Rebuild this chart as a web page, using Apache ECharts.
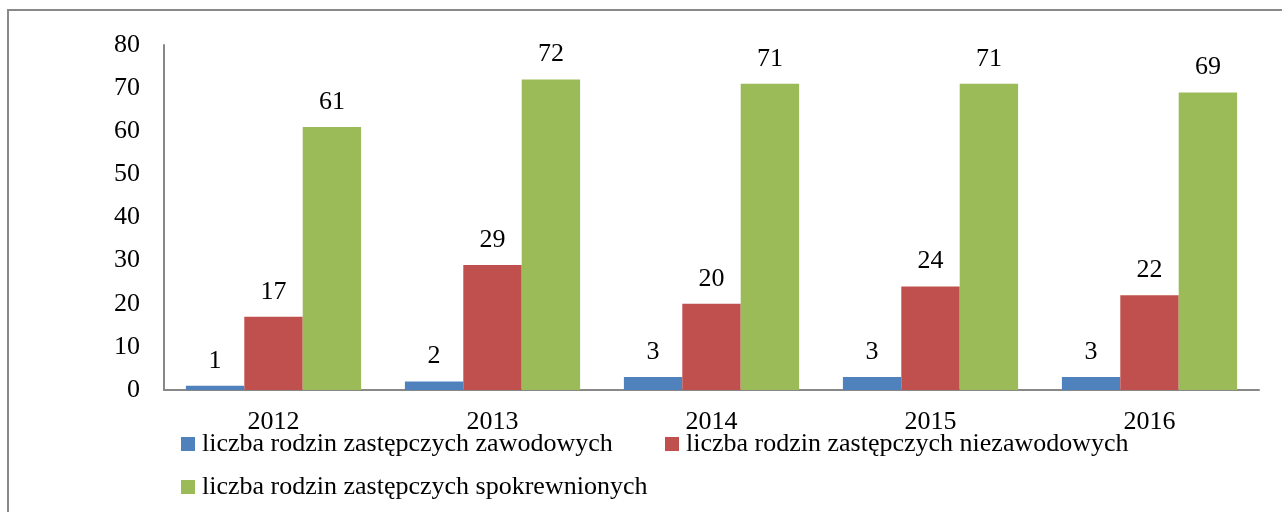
<!DOCTYPE html>
<html>
<head>
<meta charset="utf-8">
<script src="https://cdn.jsdelivr.net/npm/echarts@6/dist/echarts.min.js"></script>
<style>
  html, body { margin: 0; padding: 0; background: #fff; }
  #main { width: 1282px; height: 512px; }
</style>
</head>
<body>
<div id="main"></div>
<script>
var years = ['2012', '2013', '2014', '2015', '2016'];
var seriesNames = [
    'liczba rodzin zastępczych zawodowych',
    'liczba rodzin zastępczych niezawodowych',
    'liczba rodzin zastępczych spokrewnionych'
];
var zawodowe = [1, 2, 3, 3, 3];
var niezawodowe = [17, 29, 20, 24, 22];
var spokrewnione = [61, 72, 71, 71, 69];
var colors = ['#4F81BD', '#C0504D', '#9BBB59'];

var chartDom = document.getElementById('main');
var myChart = echarts.init(chartDom);
var font = "'Liberation Serif', 'Times New Roman', serif";

function makeSeries(name, data, color) {
    return {
        name: name,
        type: 'bar',
        barGap: 0,
        barCategoryGap: '20%',
        itemStyle: { color: color },
        label: {
            show: true,
            position: 'top',
            distance: 12,
            color: '#000',
            fontFamily: font,
            fontSize: 26
        },
        data: data
    };
}

function makeLegend(name, left, top) {
    return {
        data: [name],
        left: left,
        top: top,
        orient: 'horizontal',
        itemWidth: 14,
        itemHeight: 14,
        icon: 'rect',
        textStyle: { color: '#000', fontFamily: font, fontSize: 26, padding: [0, 0, 0, 2] }
    };
}

var option = {
    animation: false,
    textStyle: { fontFamily: font },
    graphic: [{
        type: 'rect',
        shape: { x: 8, y: 10, width: 1290, height: 520 },
        style: { fill: 'none', stroke: '#898989', lineWidth: 2 },
        silent: true
    }],
    grid: {
        left: 164,
        right: 23,
        top: 45,
        bottom: 122
    },
    legend: [
        makeLegend(seriesNames[0], 176, 426),
        makeLegend(seriesNames[1], 660, 426),
        makeLegend(seriesNames[2], 176, 469)
    ],
    xAxis: {
        type: 'category',
        data: years,
        axisTick: { show: false },
        axisLine: { lineStyle: { color: '#888', width: 2 } },
        axisLabel: { color: '#000', fontFamily: font, fontSize: 26, margin: 19 }
    },
    yAxis: {
        type: 'value',
        min: 0,
        max: 80,
        interval: 10,
        splitLine: { show: false },
        axisTick: { show: false },
        axisLine: { show: true, lineStyle: { color: '#888', width: 2 } },
        axisLabel: { color: '#000', fontFamily: font, fontSize: 26, margin: 24 }
    },
    series: [
        makeSeries(seriesNames[0], zawodowe, colors[0]),
        makeSeries(seriesNames[1], niezawodowe, colors[1]),
        makeSeries(seriesNames[2], spokrewnione, colors[2])
    ]
};

option && myChart.setOption(option);
</script>
</body>
</html>
